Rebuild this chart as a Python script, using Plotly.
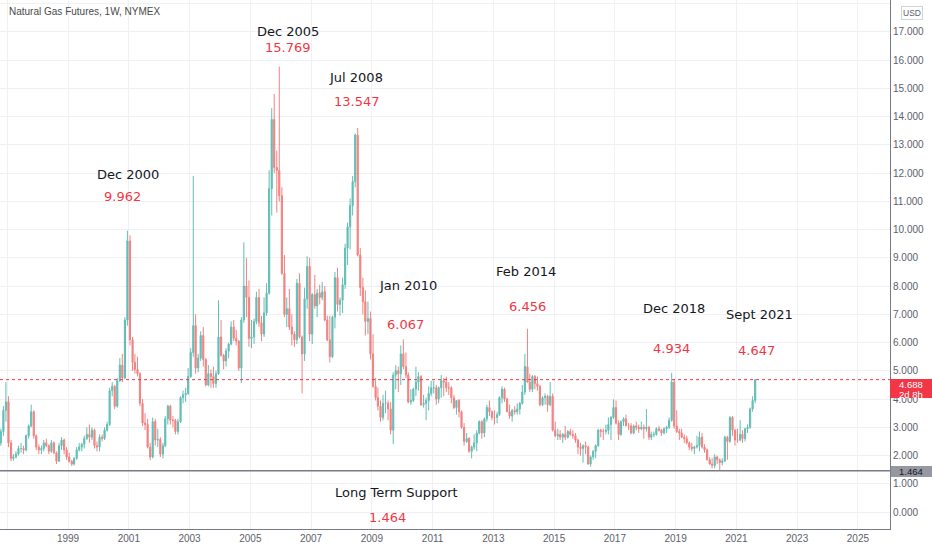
import pandas as pd
import plotly.graph_objects as go

# monthly candles, Oct 1996 .. Aug 2021
opens = [
    2.45, 2.85, 3.60,
    3.90, 2.45, 1.90, 1.95, 2.05, 2.25, 2.25, 2.20, 2.70, 3.05, 3.55, 2.70,
    2.30, 2.20, 2.25, 2.45, 2.35, 2.15, 2.45, 2.10, 1.80, 2.35, 2.55, 2.20,
    1.95, 1.80, 1.70, 1.90, 2.20, 2.30, 2.40, 2.60, 2.75, 2.65, 2.90, 2.35,
    2.30, 2.65, 2.60, 2.90, 3.10, 4.30, 4.45, 3.75, 4.65, 5.20, 4.75, 6.80,
    9.60, 6.10, 5.30, 5.05, 4.90, 3.85, 3.15, 3.10, 2.30, 1.95, 3.20, 2.55,
    2.57, 2.05, 2.35, 3.30, 3.75, 3.25, 3.25, 2.85, 3.20, 4.05, 4.15, 4.20,
    4.80, 5.65, 6.60, 5.10, 5.45, 6.25, 5.40, 4.50, 4.90, 4.80, 4.55, 4.90,
    6.20, 5.55, 5.35, 5.70, 5.95, 6.55, 6.15, 6.05, 5.10, 6.80, 8.00, 7.60,
    6.15, 6.20, 6.75, 7.60, 6.70, 6.30, 7.05, 7.75, 11.45, 13.90, 12.20, 12.10,
    11.20, 8.45, 7.00, 7.20, 6.55, 6.30, 6.10, 8.10, 6.20, 5.60, 7.55, 8.70,
    6.30, 7.70, 7.30, 7.75, 7.60, 7.80, 6.80, 6.10, 5.50, 6.90, 8.30, 7.35,
    7.50, 8.05, 9.35, 10.10, 10.85, 11.70, 13.35, 9.10, 7.95, 7.45, 6.75, 6.85,
    5.60, 4.45, 4.05, 3.75, 3.35, 3.85, 3.85, 3.65, 2.90, 4.85, 5.00, 4.90,
    5.60, 5.15, 4.85, 3.90, 3.95, 4.35, 4.60, 4.80, 3.80, 3.85, 3.95, 4.20,
    4.40, 4.40, 4.00, 4.40, 4.65, 4.60, 4.40, 4.40, 4.05, 3.70, 3.95, 3.55,
    3.00, 2.50, 2.60, 2.15, 2.30, 2.45, 2.80, 3.20, 2.80, 3.30, 3.70, 3.55,
    3.35, 3.35, 3.45, 4.05, 4.35, 4.00, 3.55, 3.40, 3.60, 3.55, 3.65, 3.85,
    4.25, 5.15, 4.60, 4.35, 4.80, 4.55, 4.45, 3.80, 4.05, 4.10, 3.80, 4.10,
    2.90, 2.70, 2.75, 2.65, 2.75, 2.65, 2.85, 2.75, 2.70, 2.55, 2.30, 2.25,
    2.35, 2.30, 1.70, 1.95, 2.15, 2.35, 2.90, 2.85, 2.85, 2.90, 3.10, 3.35,
    3.70, 3.15, 2.75, 3.20, 3.30, 3.05, 3.05, 2.80, 3.05, 3.00, 2.95, 3.00,
    2.95, 3.00, 2.65, 2.75, 2.75, 2.95, 2.90, 2.80, 2.95, 3.00, 3.25, 4.60,
    3.05, 2.85, 2.80, 2.65, 2.60, 2.45, 2.30, 2.25, 2.30, 2.35, 2.65, 2.30,
    2.20, 1.85, 1.70, 1.65, 1.95, 1.85, 1.75, 1.80, 2.65, 2.50, 3.35, 2.90,
    2.55, 2.55, 2.75, 2.60, 2.95, 3.00, 3.65, 3.95,
]
highs = [
    2.95, 3.75, 4.60,
    4.10, 2.55, 2.05, 2.15, 2.35, 2.45, 2.35, 2.75, 3.10, 3.80, 3.60, 2.75,
    2.40, 2.35, 2.55, 2.60, 2.40, 2.55, 2.50, 2.15, 2.45, 2.65, 2.60, 2.30,
    2.10, 1.85, 1.95, 2.30, 2.45, 2.45, 2.70, 3.00, 3.10, 3.00, 2.95, 2.50,
    2.75, 2.75, 3.00, 3.20, 4.40, 4.60, 4.50, 4.75, 5.45, 5.60, 6.90, 9.96,
    9.80, 6.20, 5.60, 5.50, 4.95, 4.00, 3.50, 3.30, 2.45, 3.35, 3.30, 2.95,
    2.65, 2.45, 3.40, 3.80, 3.80, 3.40, 3.30, 3.30, 4.10, 4.30, 4.40, 5.10,
    5.80, 11.90, 7.00, 5.60, 6.40, 6.55, 5.45, 5.20, 5.05, 5.15, 5.00, 7.50,
    6.80, 5.60, 5.80, 6.00, 6.75, 6.80, 6.45, 6.10, 6.90, 9.55, 9.00, 8.20,
    6.80, 6.85, 7.80, 7.90, 6.95, 7.60, 8.10, 12.10, 14.30, 14.80, 12.80, 15.77,
    11.50, 9.10, 7.60, 7.90, 7.00, 6.40, 8.25, 8.45, 6.25, 7.95, 9.05, 9.00,
    7.75, 8.40, 7.90, 8.05, 8.15, 8.00, 6.95, 6.95, 6.95, 8.50, 8.65, 7.60,
    8.30, 9.50, 10.25, 11.10, 11.90, 13.40, 13.60, 9.35, 8.30, 7.85, 7.45, 7.10,
    6.30, 4.75, 4.40, 3.95, 4.15, 4.30, 3.95, 3.90, 4.95, 5.20, 5.15, 5.90,
    6.11, 5.65, 4.95, 4.35, 4.40, 5.15, 4.95, 4.85, 4.15, 4.05, 4.45, 4.65,
    4.65, 4.50, 4.45, 4.85, 4.75, 4.80, 4.60, 4.45, 4.15, 3.95, 4.00, 3.60,
    3.15, 2.80, 2.65, 2.35, 2.75, 2.90, 3.25, 3.25, 3.35, 3.80, 3.95, 3.60,
    3.60, 3.55, 4.10, 4.45, 4.40, 4.05, 3.80, 3.65, 3.75, 3.85, 3.90, 4.50,
    5.60, 6.49, 4.90, 4.85, 4.85, 4.80, 4.50, 4.10, 4.20, 4.15, 4.60, 4.20,
    3.20, 2.95, 2.90, 2.80, 3.05, 2.90, 2.95, 2.90, 2.80, 2.60, 2.45, 2.40,
    2.50, 2.35, 2.00, 2.20, 2.40, 2.95, 2.95, 2.95, 3.10, 3.35, 3.40, 3.99,
    3.95, 3.25, 3.25, 3.35, 3.45, 3.15, 3.15, 3.10, 3.20, 3.10, 3.20, 3.10,
    3.65, 3.05, 2.85, 2.85, 3.00, 3.05, 2.95, 3.00, 3.05, 3.35, 4.93, 4.70,
    3.60, 2.95, 2.95, 2.75, 2.70, 2.50, 2.45, 2.35, 2.70, 2.85, 2.80, 2.40,
    2.25, 1.95, 1.90, 2.05, 2.00, 1.90, 1.90, 2.70, 2.70, 3.40, 3.40, 2.95,
    2.95, 3.25, 2.90, 2.98, 3.10, 3.70, 4.10, 4.70,
]
lows = [
    2.35, 2.70, 3.20,
    2.30, 1.80, 1.82, 1.90, 2.00, 2.10, 2.05, 2.15, 2.60, 3.00, 2.60, 2.20,
    2.05, 2.05, 2.15, 2.30, 2.05, 2.10, 2.05, 1.70, 1.78, 2.20, 2.05, 1.85,
    1.75, 1.63, 1.65, 1.85, 2.15, 2.15, 2.25, 2.55, 2.45, 2.55, 2.25, 2.15,
    2.15, 2.50, 2.55, 2.85, 3.05, 4.10, 3.65, 3.70, 4.60, 4.60, 4.70, 6.60,
    5.90, 5.00, 4.90, 4.80, 3.75, 3.05, 2.90, 2.25, 1.83, 1.90, 2.35, 2.30,
    1.95, 1.90, 2.30, 3.10, 3.10, 3.00, 2.75, 2.75, 3.15, 3.85, 3.90, 4.15,
    4.75, 5.50, 4.90, 4.95, 5.35, 5.15, 4.45, 4.45, 4.40, 4.40, 4.40, 4.85,
    5.50, 5.05, 5.15, 5.45, 5.90, 6.05, 5.90, 5.00, 4.57, 6.70, 6.90, 5.85,
    5.80, 5.95, 6.65, 6.55, 6.05, 6.20, 6.95, 7.70, 10.50, 12.00, 10.60, 11.00,
    8.40, 6.90, 6.55, 6.45, 5.90, 5.85, 5.95, 6.15, 4.20, 5.35, 7.20, 6.05,
    5.95, 7.20, 6.90, 7.35, 7.50, 6.75, 6.05, 5.30, 5.45, 6.50, 7.10, 6.95,
    7.05, 7.90, 8.75, 9.30, 10.50, 11.50, 9.05, 7.65, 7.00, 6.25, 6.30, 5.40,
    4.40, 3.95, 3.60, 3.20, 3.25, 3.50, 3.25, 2.75, 2.41, 4.35, 4.25, 4.50,
    5.05, 4.75, 3.85, 3.80, 3.90, 4.10, 4.30, 3.75, 3.70, 3.25, 3.60, 4.10,
    4.20, 3.80, 3.85, 4.05, 4.10, 4.25, 4.15, 3.85, 3.65, 3.45, 3.35, 2.95,
    2.35, 2.45, 2.10, 1.90, 2.20, 2.15, 2.75, 2.60, 2.65, 3.20, 3.40, 3.25,
    3.10, 3.15, 3.40, 3.85, 3.90, 3.55, 3.30, 3.20, 3.45, 3.45, 3.45, 3.80,
    4.15, 4.85, 4.25, 4.25, 4.35, 4.30, 3.75, 3.75, 3.80, 3.55, 3.75, 2.85,
    2.65, 2.55, 2.55, 2.45, 2.55, 2.60, 2.70, 2.60, 2.45, 2.05, 2.00, 1.75,
    2.05, 1.68, 1.61, 1.85, 1.90, 2.30, 2.65, 2.55, 2.75, 2.75, 2.55, 3.30,
    3.10, 2.55, 2.70, 3.05, 3.05, 2.90, 2.75, 2.75, 2.90, 2.80, 2.90, 2.60,
    2.85, 2.55, 2.55, 2.65, 2.70, 2.85, 2.70, 2.75, 2.80, 2.95, 3.20, 2.95,
    2.80, 2.55, 2.62, 2.45, 2.40, 2.20, 2.15, 2.05, 2.25, 2.15, 2.25, 2.10,
    1.83, 1.68, 1.55, 1.55, 1.70, 1.48, 1.65, 1.78, 1.85, 2.45, 2.70, 2.35,
    2.45, 2.50, 2.45, 2.50, 2.80, 2.95, 3.55, 3.85,
]
closes = [
    2.85, 3.60, 3.90,
    2.45, 1.90, 1.95, 2.05, 2.25, 2.25, 2.20, 2.70, 3.05, 3.55, 2.70, 2.30,
    2.20, 2.25, 2.45, 2.35, 2.15, 2.45, 2.10, 1.80, 2.35, 2.55, 2.20, 1.95,
    1.80, 1.70, 1.90, 2.20, 2.30, 2.40, 2.60, 2.75, 2.65, 2.90, 2.35, 2.30,
    2.65, 2.60, 2.90, 3.10, 4.30, 4.45, 3.75, 4.65, 5.20, 4.75, 6.80, 9.60,
    6.10, 5.30, 5.05, 4.90, 3.85, 3.15, 3.10, 2.30, 1.95, 3.20, 2.55, 2.57,
    2.05, 2.35, 3.30, 3.75, 3.25, 3.25, 2.85, 3.20, 4.05, 4.15, 4.20, 4.80,
    5.65, 6.60, 5.10, 5.45, 6.25, 5.40, 4.50, 4.90, 4.80, 4.55, 4.90, 6.20,
    5.55, 5.35, 5.70, 5.95, 6.55, 6.15, 6.05, 5.10, 6.80, 8.00, 7.60, 6.15,
    6.20, 6.75, 7.60, 6.70, 6.30, 7.05, 7.75, 11.45, 13.90, 12.20, 12.10, 11.20,
    8.45, 7.00, 7.20, 6.55, 6.30, 6.10, 8.10, 6.20, 5.60, 7.55, 8.70, 6.30,
    7.70, 7.30, 7.75, 7.60, 7.80, 6.80, 6.10, 5.50, 6.90, 8.30, 7.35, 7.50,
    8.05, 9.35, 10.10, 10.85, 11.70, 13.35, 9.10, 7.95, 7.45, 6.75, 6.85, 5.60,
    4.45, 4.05, 3.75, 3.35, 3.85, 3.85, 3.65, 2.90, 4.85, 5.00, 4.90, 5.60,
    5.15, 4.85, 3.90, 3.95, 4.35, 4.60, 4.80, 3.80, 3.85, 3.95, 4.20, 4.40,
    4.40, 4.00, 4.40, 4.65, 4.60, 4.40, 4.40, 4.05, 3.70, 3.95, 3.55, 3.00,
    2.50, 2.60, 2.15, 2.30, 2.45, 2.80, 3.20, 2.80, 3.30, 3.70, 3.55, 3.35,
    3.35, 3.45, 4.05, 4.35, 4.00, 3.55, 3.40, 3.60, 3.55, 3.65, 3.85, 4.25,
    5.15, 4.60, 4.35, 4.80, 4.55, 4.45, 3.80, 4.05, 4.10, 3.80, 4.10, 2.90,
    2.70, 2.75, 2.65, 2.75, 2.65, 2.85, 2.75, 2.70, 2.55, 2.30, 2.25, 2.35,
    2.30, 1.70, 1.95, 2.15, 2.35, 2.90, 2.85, 2.85, 2.90, 3.10, 3.35, 3.70,
    3.15, 2.75, 3.20, 3.30, 3.05, 3.05, 2.80, 3.05, 3.00, 2.95, 3.00, 2.95,
    3.00, 2.65, 2.75, 2.75, 2.95, 2.90, 2.80, 2.95, 3.00, 3.25, 4.60, 3.05,
    2.85, 2.80, 2.65, 2.60, 2.45, 2.30, 2.25, 2.30, 2.35, 2.65, 2.30, 2.20,
    1.85, 1.70, 1.65, 1.95, 1.85, 1.75, 1.80, 2.65, 2.50, 3.35, 2.90, 2.55,
    2.55, 2.75, 2.60, 2.95, 3.00, 3.65, 3.95, 4.688,
]
dates = pd.date_range("1996-10-01", periods=len(closes), freq="MS") + pd.Timedelta(days=14)

last_price = 4.688
support = 1.464

# (text, colour, x px, y px) of the hand-drawn notes on the chart
notes = [
    ("Dec 2005", "black", 288, 31), ("15.769", "red", 288, 48),
    ("Jul 2008", "black", 356, 77), ("13.547", "red", 357, 101),
    ("Dec 2000", "black", 128, 174), ("9.962", "red", 122, 196),
    ("Jan 2010", "black", 408, 285), ("6.067", "red", 405, 324),
    ("Feb 2014", "black", 526, 271), ("6.456", "red", 527, 306),
    ("Dec 2018", "black", 674, 308), ("4.934", "red", 671, 348),
    ("Sept 2021", "black", 759, 314), ("4.647", "red", 756, 350),
    ("Long Term Support", "black", 396, 492), ("1.464", "red", 387, 517),
]

PW, PH = 890, 529  # plot area in px
UP, DOWN, RED = '#26a69a', '#ef5350', '#f23645'


def px(x, y):
    return x / PW, 1 - y / PH


fig = go.Figure(go.Candlestick(
    x=dates, open=opens, high=highs, low=lows, close=closes,
    increasing=dict(line=dict(color=UP, width=1), fillcolor=UP),
    decreasing=dict(line=dict(color=DOWN, width=1), fillcolor=DOWN),
    opacity=0.72, hoverinfo='skip'))

fig.add_hline(y=support, line=dict(color='#787b86', width=1.5))
fig.add_hline(y=last_price, line=dict(color=RED, width=1, dash='dot'))

for text, col, x, y in notes:
    ax, ay = px(x, y)
    fig.add_annotation(text=text, xref='paper', yref='paper', x=ax, y=ay,
                       xanchor='center', yanchor='middle', showarrow=False,
                       font=dict(family='DejaVu Sans', size=13,
                                 color='#131722' if col == 'black' else RED))

ax, ay = px(7, 12)
fig.add_annotation(text='Natural Gas Futures, 1W, NYMEX', xref='paper', yref='paper',
                   x=ax, y=ay, xanchor='left', yanchor='middle', showarrow=False,
                   font=dict(family='Liberation Sans', size=10, color='#4a4a4a'))

# price-scale labels
fig.add_shape(type='rect', xref='paper', yref='paper', x0=1.0, x1=932 / PW,
              y0=1 - 398 / PH, y1=1 - 379 / PH, fillcolor=RED, line_width=0)
for text, y in [(f'{last_price:.3f}', 384), ('2d 8h', 394)]:
    ax, ay = px(911, y)
    fig.add_annotation(text=text, xref='paper', yref='paper', x=ax, y=ay,
                       xanchor='center', yanchor='middle', showarrow=False,
                       font=dict(family='Liberation Sans', size=9.5, color='white'))
fig.add_shape(type='rect', xref='paper', yref='paper', x0=891 / PW, x1=932 / PW,
              y0=1 - 477 / PH, y1=1 - 466 / PH, fillcolor='#9598a1', line_width=0)
ax, ay = px(911, 471.5)
fig.add_annotation(text=f'{support:.3f}', xref='paper', yref='paper', x=ax, y=ay,
                   xanchor='center', yanchor='middle', showarrow=False,
                   font=dict(family='Liberation Sans', size=9.5, color='#131722'))
ax, ay = px(912, 12.5)
fig.add_annotation(text='USD', xref='paper', yref='paper', x=ax, y=ay,
                   xanchor='center', yanchor='middle', showarrow=False,
                   bgcolor='white', bordercolor='#d1d4dc', borderwidth=1, borderpad=1,
                   font=dict(family='Liberation Sans', size=8.5, color='#5d606b'))

fig.update_layout(
    width=932, height=550,
    margin=dict(l=0, r=42, t=0, b=21),
    paper_bgcolor='white', plot_bgcolor='white',
    showlegend=False,
    font=dict(family='Liberation Sans', size=10, color='#5d606b'))

fig.update_xaxes(
    type='date', range=['1996-10-05', '2026-01-22'],
    rangeslider_visible=False,
    tick0='1997-01-01', dtick='M24', tickformat='%Y',
    showgrid=True, gridcolor='#eef0f4', gridwidth=1,
    showline=True, linecolor='#787b86', linewidth=1,
    ticks='', zeroline=False)

fig.update_yaxes(
    side='right', range=[-0.60, 18.13], dtick=1, tick0=0, tickformat='.3f',
    showgrid=True, gridcolor='#eef0f4', gridwidth=1,
    showline=True, linecolor='#787b86', linewidth=1,
    ticks='', zeroline=False)

fig.write_html("out.html", config={'displayModeBar': False},
               post_script="document.body.style.margin='0';")
